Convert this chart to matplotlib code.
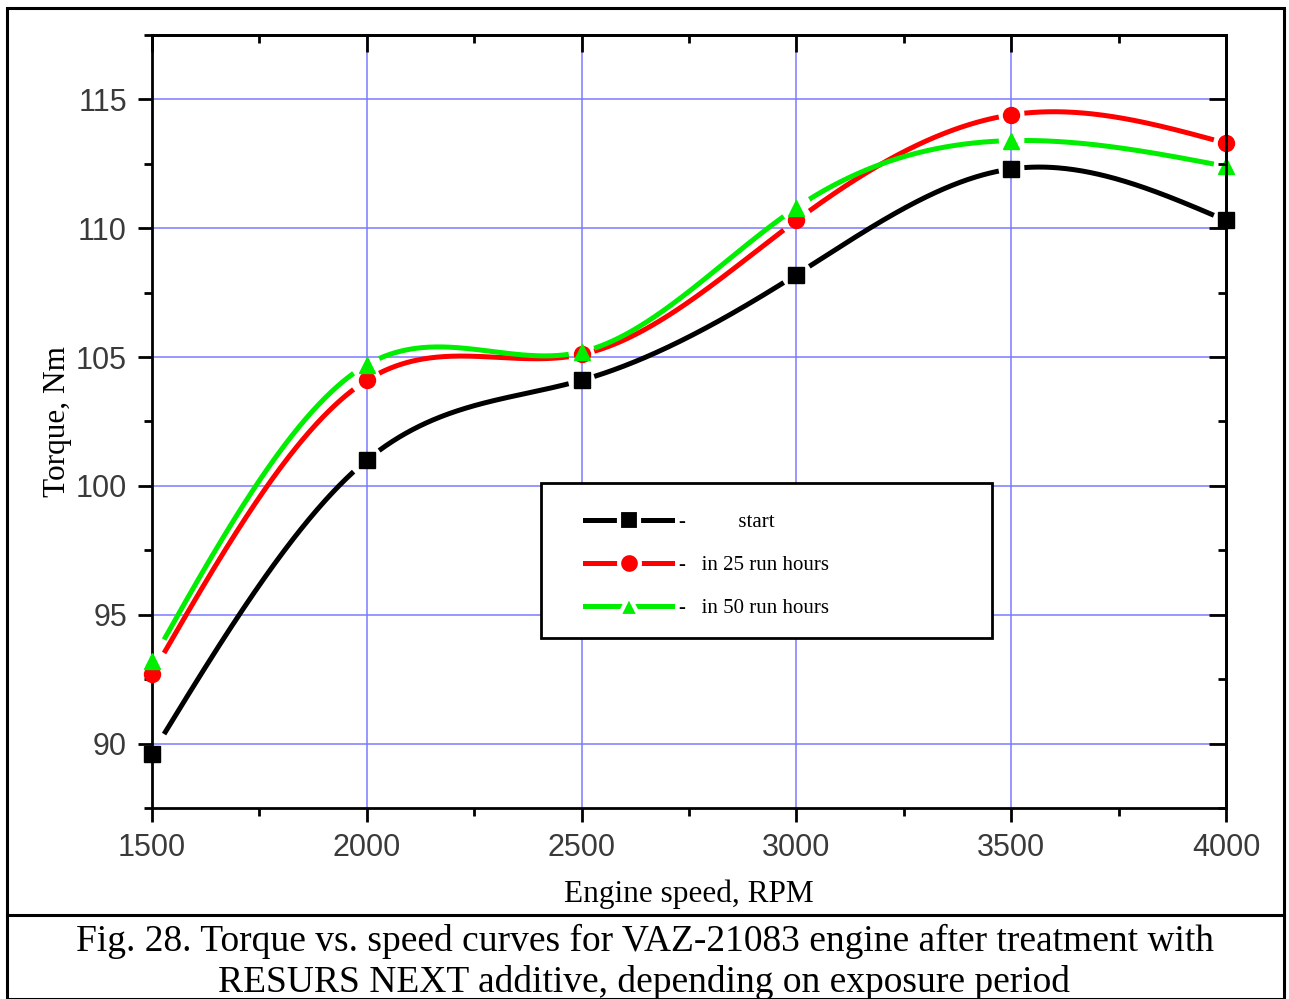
import numpy as np
import matplotlib
matplotlib.use("Agg")
import matplotlib.pyplot as plt
from matplotlib.lines import Line2D
from matplotlib.patches import Rectangle
from matplotlib.ticker import MultipleLocator

rpm = [1500, 2000, 2500, 3000, 3500, 4000]
torque_start = [89.6, 101.0, 104.1, 108.2, 112.3, 110.3]
torque_25h = [92.7, 104.1, 105.1, 110.3, 114.4, 113.3]
torque_50h = [93.2, 104.7, 105.2, 110.8, 113.4, 112.4]
labels = ["start", "in 25 run hours", "in 50 run hours"]
colors = ["black", "#ff0000", "#00ee00"]
markers = ["s", "o", "^"]

SANS = "Liberation Sans"
SERIF = "Liberation Serif"


def natural_spline(x, y, xs):
    # plain natural cubic spline through the measured points
    x = np.asarray(x, float)
    y = np.asarray(y, float)
    n = len(x)
    h = np.diff(x)
    A = np.zeros((n, n))
    b = np.zeros(n)
    A[0, 0] = A[-1, -1] = 1
    for i in range(1, n - 1):
        A[i, i - 1] = h[i - 1]
        A[i, i] = 2 * (h[i - 1] + h[i])
        A[i, i + 1] = h[i]
        b[i] = 3 * ((y[i + 1] - y[i]) / h[i] - (y[i] - y[i - 1]) / h[i - 1])
    c = np.linalg.solve(A, b)
    out = np.empty_like(xs)
    for k, xv in enumerate(xs):
        i = min(np.searchsorted(x, xv, side="right") - 1, n - 2)
        dx = xv - x[i]
        bb = (y[i + 1] - y[i]) / h[i] - h[i] * (2 * c[i] + c[i + 1]) / 3
        d = (c[i + 1] - c[i]) / (3 * h[i])
        out[k] = y[i] + bb * dx + c[i] * dx ** 2 + d * dx ** 3
    return out


fig = plt.figure(figsize=(12.89, 9.99), dpi=100)
ax = fig.add_axes([0.1179, 0.1912, 0.8332, 0.7738])

xs = np.linspace(rpm[0], rpm[-1], 800)
for ys, col, mk in zip([torque_start, torque_25h, torque_50h], colors, markers):
    sm = natural_spline(rpm, ys, xs)
    # leave a small gap around each marker like the original software does
    for xv in rpm:
        sm[np.abs(xs - xv) < 28] = np.nan
    ax.plot(xs, sm, color=col, lw=3.6, zorder=3, solid_capstyle="butt")
    ax.plot(rpm, ys, ls="none", marker=mk, color=col, ms=11.5, zorder=4,
            clip_on=False)

ax.set_xlim(1500, 4000)
ax.set_ylim(87.5, 117.5)
ax.xaxis.set_major_locator(MultipleLocator(500))
ax.xaxis.set_minor_locator(MultipleLocator(250))
ax.yaxis.set_major_locator(MultipleLocator(5))
ax.yaxis.set_minor_locator(MultipleLocator(2.5))
ax.grid(True, which="major", color="#7a7aff", lw=1.1)
ax.set_axisbelow(True)

for sp in ax.spines.values():
    sp.set_linewidth(2)
ax.tick_params(which="both", direction="out", width=2, top=False, right=False,
               labelsize=22, pad=8)
ax.tick_params(which="major", length=10)
ax.tick_params(which="minor", length=6)
for lab in ax.get_xticklabels() + ax.get_yticklabels():
    lab.set_fontfamily(SANS)
    lab.set_color("#3a3a3a")

# inward ticks on top and right
sec_x = ax.secondary_xaxis("top")
sec_x.set_zorder(5)
sec_x.xaxis.set_major_locator(MultipleLocator(500))
sec_x.xaxis.set_minor_locator(MultipleLocator(250))
sec_x.tick_params(which="both", direction="in", width=2, labeltop=False)
sec_x.tick_params(which="major", length=12)
sec_x.tick_params(which="minor", length=6)
sec_x.spines["top"].set_linewidth(2)
sec_y = ax.secondary_yaxis("right")
sec_y.set_zorder(5)
sec_y.yaxis.set_major_locator(MultipleLocator(5))
sec_y.yaxis.set_minor_locator(MultipleLocator(2.5))
sec_y.tick_params(which="both", direction="in", width=2, labelright=False)
sec_y.tick_params(which="major", length=12)
sec_y.tick_params(which="minor", length=6)
sec_y.spines["right"].set_linewidth(2)

ax.set_xlabel("Engine speed, RPM", fontfamily=SERIF, fontsize=22.5, labelpad=12)
ax.set_ylabel("Torque, Nm", fontfamily=SERIF, fontsize=22.5, labelpad=3)

# legend box drawn separately so the entries can sit where they do in the original
ax.add_patch(Rectangle((0.362, 0.220), 0.420, 0.200, transform=ax.transAxes,
                       facecolor="white", edgecolor="black", lw=2, zorder=6))
handles = [Line2D([], [], color=c, lw=3.6, marker=m, ms=15, mec="white", mew=3)
           for c, m in zip(colors, markers)]
leg_labels = ["-          " + labels[0], "-   " + labels[1], "-   " + labels[2]]
leg = ax.legend(handles, leg_labels, loc="upper left",
                bbox_to_anchor=(0.403, 0.382), borderaxespad=0, borderpad=0,
                prop={"family": SERIF, "size": 15},
                handlelength=4.2, handletextpad=0.3, labelspacing=1.12,
                frameon=False)
leg.set_zorder(7)

# outer frame + caption box
fig.patches.append(Rectangle((7 / 1289, 0), 1277 / 1289, 991 / 999,
                             transform=fig.transFigure, fill=False,
                             edgecolor="black", lw=2.2))
fig.add_artist(Line2D([7 / 1289, 1284 / 1289], [1 - 915 / 999] * 2,
                      transform=fig.transFigure, color="black", lw=2.2))
fig.text(0.5, 1 - 941 / 999,
         "Fig. 28. Torque vs. speed curves for VAZ-21083 engine after treatment with",
         ha="center", va="center", fontfamily=SERIF, fontsize=27)
fig.text(0.5, 1 - 982 / 999, "RESURS NEXT additive, depending on exposure period",
         ha="center", va="center", fontfamily=SERIF, fontsize=27)

fig.savefig("out.png", dpi=100)
